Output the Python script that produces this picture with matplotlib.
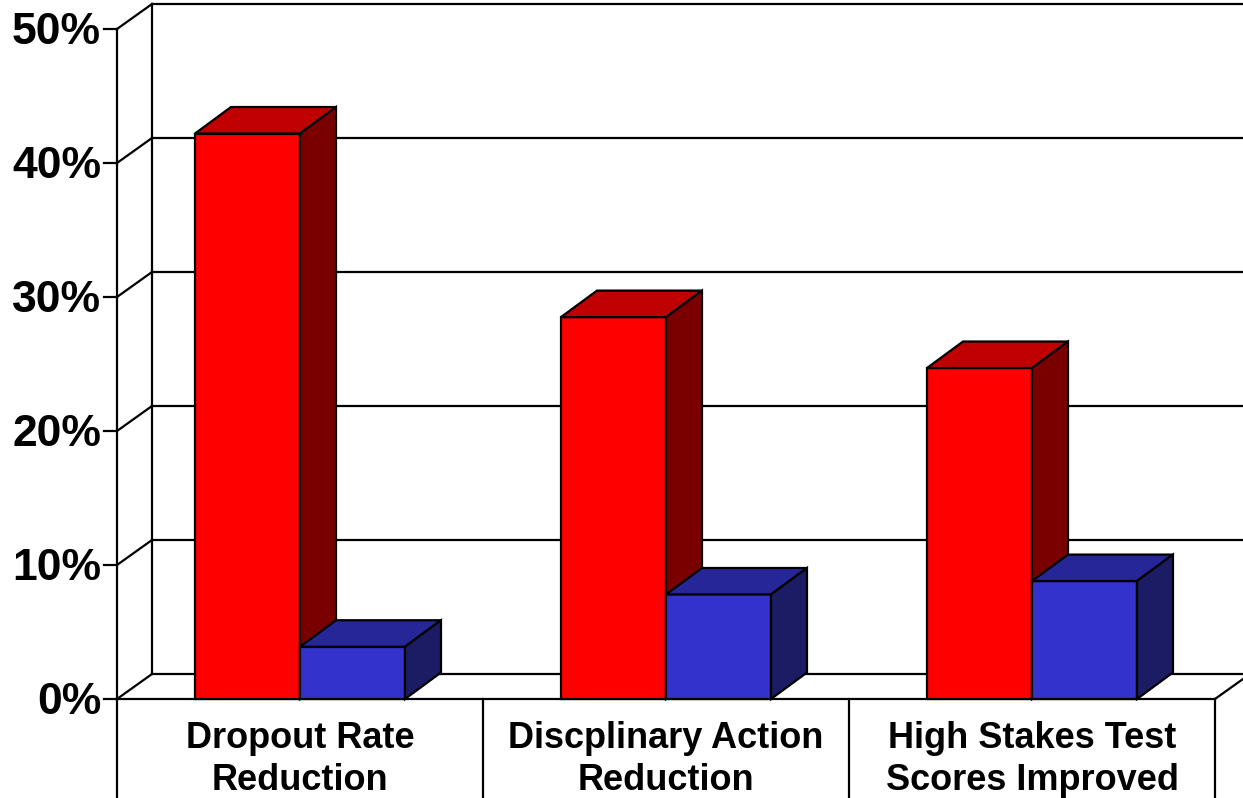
import matplotlib
matplotlib.use("Agg")
import matplotlib.pyplot as plt
from matplotlib.patches import Polygon

# chart data
categories = ["Dropout Rate\nReduction",
              "Discplinary Action\nReduction",
              "High Stakes Test\nScores Improved"]
red_values = [42.2, 28.5, 24.7]
blue_values = [3.9, 7.8, 8.8]
y_ticks = [0, 10, 20, 30, 40, 50]

# colours for front / top / side faces
red_faces = ("#ff0000", "#c00000", "#7a0000")
blue_faces = ("#3333cc", "#262699", "#1c1c64")

W, H = 1243, 798
fig = plt.figure(figsize=(W / 100, H / 100), dpi=100)
ax = fig.add_axes([0, 0, 1, 1])

# pixel scale of the front plane
x0_px, y0_px = 117, 699          # origin of the front plane (pixels from top-left)
px_cat, px_pct = 366, 13.4       # pixels per category, pixels per percent
ax.set_xlim(-x0_px / px_cat, (W - x0_px) / px_cat)
ax.set_ylim(-(H - y0_px) / px_pct, y0_px / px_pct)
ax.axis("off")

# depth of the back wall and of the bars, in data units
wdx, wdy = 35 / px_cat, 25 / px_pct
bdx, bdy = 36 / px_cat, 26.5 / px_pct
bar_w = 105 / px_cat
lw = 1.6
xmax = ax.get_xlim()[1]
ymin = ax.get_ylim()[0]
n = len(categories)

# back wall, gridlines and left wall
for v in y_ticks:
    ax.plot([wdx, xmax], [v + wdy, v + wdy], color="black", lw=lw, zorder=1)
    ax.plot([0, wdx], [v, v + wdy], color="black", lw=lw, zorder=1)
    ax.plot([-13 / px_cat, 0], [v, v], color="black", lw=lw, zorder=1)
    ax.text(-16 / px_cat, v - 3 / px_pct, f"{v}%", ha="right", va="center",
            fontsize=32, fontweight="bold", family="Liberation Sans")
ax.plot([wdx, wdx], [wdy, y_ticks[-1] + wdy], color="black", lw=lw, zorder=1)
ax.plot([0, 0], [ymin, y_ticks[-1]], color="black", lw=lw, zorder=1)

# floor front edge, right edge and category separators
ax.plot([0, n], [0, 0], color="black", lw=lw, zorder=1)
ax.plot([n, n + wdx], [0, wdy], color="black", lw=lw, zorder=1)
for i in range(1, n + 1):
    ax.plot([i, i], [ymin, 0], color="black", lw=lw, zorder=1)


def bar3d(x, h, faces, z):
    front, top, side = faces
    kw = dict(edgecolor="black", lw=lw, joinstyle="miter", zorder=z)
    ax.add_patch(Polygon([(x, 0), (x + bar_w, 0), (x + bar_w, h), (x, h)],
                         facecolor=front, **kw))
    ax.add_patch(Polygon([(x, h), (x + bar_w, h), (x + bar_w + bdx, h + bdy),
                          (x + bdx, h + bdy)], facecolor=top, **kw))
    ax.add_patch(Polygon([(x + bar_w, 0), (x + bar_w + bdx, bdy),
                          (x + bar_w + bdx, h + bdy), (x + bar_w, h)],
                         facecolor=side, **kw))


for i, (label, r, b) in enumerate(zip(categories, red_values, blue_values)):
    c = i + 0.5
    bar3d(c - bar_w, r, red_faces, 2 + 2 * i)
    bar3d(c, b, blue_faces, 3 + 2 * i)
    ax.text(c, -22 / px_pct, label, ha="center", va="top", fontsize=26,
            fontweight="bold", family="Liberation Sans", linespacing=1.25)

fig.savefig("out.png", dpi=100)
